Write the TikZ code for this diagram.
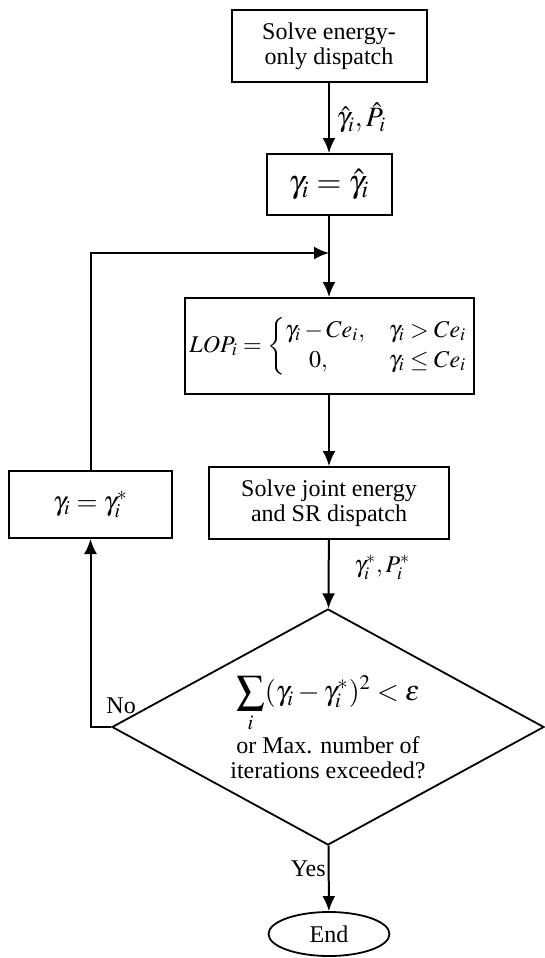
\documentclass[tikz,border=0pt]{standalone}
\usepackage{amsmath}
\usepackage{mathptmx}
\usepackage{fontspec}
\setmainfont{Liberation Serif}
\usetikzlibrary{shapes.geometric, arrows.meta}

\tikzset{
  block/.style = {draw, line width=1pt, align=center, inner sep=2pt,
    font=\fontsize{12pt}{12.5pt}\selectfont},
  decision/.style = {diamond, draw, line width=0.9pt, aspect=1.83,
    minimum width=216pt, minimum height=118pt, inner sep=0pt, align=center,
    font=\fontsize{12pt}{12.5pt}\selectfont},
  terminal/.style = {ellipse, draw, line width=0.9pt, minimum width=60.5pt,
    minimum height=22pt, inner sep=0pt, font=\fontsize{12pt}{12.5pt}\selectfont},
  tag/.style = {font=\fontsize{12pt}{12.5pt}\selectfont}
}

\begin{document}
\begin{tikzpicture}[x=0.5pt, y=-0.5pt, line width=1pt,
  >={Latex[length=7.5pt, width=6.5pt]}]
  \useasboundingbox (0,0) rectangle (545,958);

  \node[block, minimum width=97.5pt, minimum height=36pt] (solve1) at (329,46)
  {Solve energy-\\only dispatch};
  \node[block, minimum width=62.5pt, minimum height=30.5pt,
    font=\fontsize{16pt}{17pt}\selectfont] (init) at (329,184.5)
  {$\gamma_i=\hat{\gamma}_i$};
  \node[block, minimum width=144.5pt, minimum height=48pt] (lop) at (329,346)
  {$LOP_i=\begin{cases}\gamma_i-Ce_i, & \gamma_i>Ce_i\\ \quad 0, & \gamma_i\le Ce_i\end{cases}$};
  \node[block, minimum width=120pt, minimum height=36pt] (solve2) at (329,503)
  {Solve joint energy\\and SR dispatch};
  \node[block, minimum width=81.5pt, minimum height=33.5pt,
    font=\fontsize{13.5pt}{14pt}\selectfont] (update) at (90.5,504.5)
  {$\gamma_i=\gamma_i^*$};
  \node[decision] (check) at (328,727)
  {\fontsize{14pt}{15pt}\selectfont$\displaystyle\sum_i(\gamma_i-\gamma_i^*)^2<\varepsilon$\\[1pt]
   or Max. number of\\iterations exceeded?};
  \node[terminal] (end) at (329,934) {End};
  \coordinate (join) at (329,253);

  \draw[->] (solve1) -- (init) node[pos=.5, right, tag, font=\fontsize{14pt}{15pt}\selectfont]
  {$\hat{\gamma}_i,\hat{P}_i$};
  \draw (init) -- (join);
  \draw[->] (join) -- (lop);
  \draw[->] (lop) -- (solve2);
  \draw[->] (solve2) -- (check) node[pos=.4, right, xshift=9pt, tag] {$\gamma_i^*,P_i^*$};
  \draw[->] (check.west) -| (update) node[pos=0, above=3pt, xshift=5pt, tag] {No};
  \draw[->] (update) |- (join);
  \draw[->] (check) -- (end) node[pos=.35, left, inner sep=1pt, tag] {Yes};
\end{tikzpicture}
\end{document}
